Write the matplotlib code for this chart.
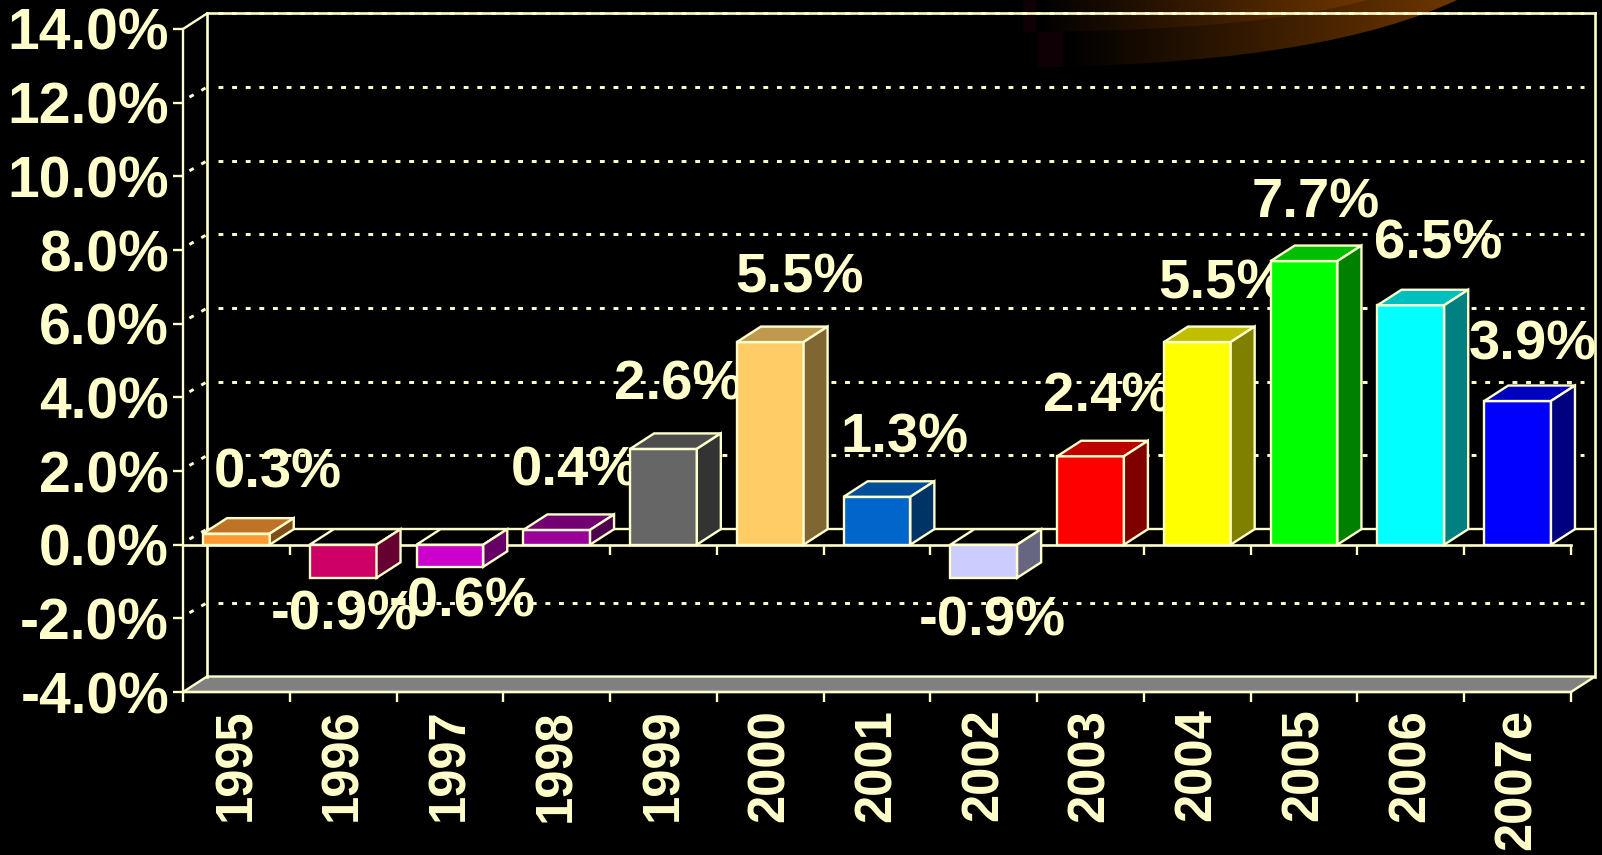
#!/usr/bin/env python3
"""Growth by year as a 3D-look bar chart on a black slide."""

import matplotlib
matplotlib.use("Agg")
import matplotlib.pyplot as plt
import numpy as np
from matplotlib.colors import LinearSegmentedColormap, to_rgb
from matplotlib.patches import PathPatch, Polygon
from matplotlib.path import Path

years = ["1995", "1996", "1997", "1998", "1999", "2000", "2001",
         "2002", "2003", "2004", "2005", "2006", "2007e"]
growth = [0.3, -0.9, -0.6, 0.4, 2.6, 5.5, 1.3, -0.9, 2.4, 5.5, 7.7, 6.5, 3.9]
bar_colors = ["#FF9933", "#CC0066", "#CC00CC", "#990099", "#666666", "#FFCC66", "#0066CC",
              "#CCCCFF", "#FF0000", "#FFFF00", "#00FF00", "#00FFFF", "#0000FF"]
y_ticks = [-4, -2, 0, 2, 4, 6, 8, 10, 12, 14]

# hand placed value labels, they sit at different distances from the bars
label_x = [0.89, 1.51, 2.62, 3.67, 4.64, 5.77, 6.76, 7.58, 8.66, 9.74, 10.61, 11.76, 12.64]
label_y = [1.93, -1.92, -1.57, 1.99, 4.32, 7.23, 2.88, -2.08, 4.00, 7.06, 9.26, 8.15, 5.41]

CREAM = "#FFFFCC"
W, H = 1602, 855
LEFT, RIGHT, TOP, BOTTOM = 183, 1571, 29, 692  # front plane, in pixels
DEPTH_X = 24 / ((RIGHT - LEFT) / 13)
DEPTH_Y = 15.5 / ((BOTTOM - TOP) / 18)
BAR_W = 0.625
LW = 1.7

plt.rcParams["font.family"] = ["Liberation Sans", "DejaVu Sans"]
plt.rcParams["font.weight"] = "bold"

fig = plt.figure(figsize=(W / 100, H / 100), dpi=100, facecolor="black")

# Swoosh from the slide background, top right corner
bg = fig.add_axes([0, 0, 1, 1], zorder=0)
bg.set_xlim(0, W)
bg.set_ylim(H, 0)
bg.axis("off")
bg.fill([1023, 1036, 1036, 1023], [0, 0, 32, 32], color="#0E0005", lw=0)
bg.fill([1038, 1063, 1063, 1038], [32, 32, 67, 67], color="#0E0005", lw=0)
swoosh_cmap = LinearSegmentedColormap.from_list("swoosh", ["#000000", "#6E3600"])
ramp = np.linspace(0, 1, 256).reshape(1, -1)

# outer and inner blade of the swoosh: corner, start, bezier control, end
blades = [([(1063, 0), (1063, 67), (1330, 60), (1457, 0)], 1063, 1457),
          ([(1036, 0), (1036, 32), (1260, 30), (1367, 0)], 1036, 1367)]
for pts, start, stop in blades:
    im = bg.imshow(ramp, extent=(start, stop, H, 0), cmap=swoosh_cmap, vmin=0, vmax=1, aspect="auto")
    codes = [Path.MOVETO, Path.LINETO, Path.CURVE3, Path.CURVE3]
    clip = PathPatch(Path(pts, codes), transform=bg.transData, fc="none", ec="none")
    bg.add_patch(clip)
    im.set_clip_path(clip)
bg.set_xlim(0, W)
bg.set_ylim(H, 0)

ax = fig.add_axes([LEFT / W, 1 - BOTTOM / H, (RIGHT - LEFT) / W, (BOTTOM - TOP) / H], zorder=1)
ax.patch.set_alpha(0.0)
ax.set_xlim(0, 13)
ax.set_ylim(-4, 14)

for name, spine in ax.spines.items():
    spine.set_visible(name in ("left", "bottom"))
    spine.set_color(CREAM)
    spine.set_linewidth(LW)

# Floor
ax.add_patch(Polygon([(0, -4), (13, -4), (13 + DEPTH_X, -4 + DEPTH_Y), (DEPTH_X, -4 + DEPTH_Y)],
                     closed=True, fc="#808080", ec=CREAM, lw=LW, clip_on=False, zorder=1))

# Back wall
wall_top = 14 + DEPTH_Y
wall_bottom = -4 + DEPTH_Y
ax.plot([DEPTH_X, DEPTH_X], [wall_bottom, wall_top], color=CREAM, lw=1.9, clip_on=False, zorder=1)
ax.plot([13 + DEPTH_X] * 2, [wall_bottom, wall_top], color=CREAM, lw=1.9, clip_on=False, zorder=1)
ax.plot([DEPTH_X, 13 + DEPTH_X], [wall_top, wall_top], color=CREAM, lw=1.9, clip_on=False, zorder=1)
ax.plot([0, DEPTH_X], [14, wall_top], color=CREAM, lw=LW, clip_on=False, zorder=1)

# Dotted gridlines on the wall and side wall
dots = (0, (1.67, 3.0))
for tick in y_ticks[1:]:
    if tick == 0:
        continue
    ax.plot([DEPTH_X + 0.1, 13 + DEPTH_X - 0.1], [tick + DEPTH_Y] * 2, color=CREAM, lw=2.1,
            ls=dots, clip_on=False, zorder=1)
for tick in y_ticks[1:-1]:
    ax.plot([0.06, DEPTH_X], [tick + 0.15, tick + DEPTH_Y], color=CREAM, lw=2.1,
            ls=dots, clip_on=False, zorder=1)

# Zero plane, front and back
ax.plot([DEPTH_X, 13 + DEPTH_X], [DEPTH_Y, DEPTH_Y], color=CREAM, lw=LW, clip_on=False, zorder=1)
ax.plot([0, 13], [0, 0], color=CREAM, lw=1.9, clip_on=False, zorder=1.5)
ax.vlines(range(1, 14), -0.27, 0, color=CREAM, lw=LW, clip_on=False, zorder=1.5)

# Bars, each one with its label on top, later bars cover earlier labels
for i, (value, color) in enumerate(zip(growth, bar_colors)):
    x0 = i + (1 - BAR_W) / 2
    x1 = x0 + BAR_W
    z = 3 + 2 * i
    rgb = np.array(to_rgb(color))
    high = max(value, 0)
    low = min(value, 0)
    top_face = rgb * 0.75 if value > 0 else "black"
    ax.bar(x0, value, width=BAR_W, align="edge", color=color, edgecolor=CREAM, linewidth=LW,
           clip_on=False, zorder=z)
    ax.add_patch(Polygon([(x0, high), (x1, high), (x1 + DEPTH_X, high + DEPTH_Y), (x0 + DEPTH_X, high + DEPTH_Y)],
                         closed=True, fc=top_face, ec=CREAM, lw=LW, clip_on=False, zorder=z))
    ax.add_patch(Polygon([(x1, low), (x1, high), (x1 + DEPTH_X, high + DEPTH_Y), (x1 + DEPTH_X, low + DEPTH_Y)],
                         closed=True, fc=rgb * 0.5, ec=CREAM, lw=LW, clip_on=False, zorder=z))
    ax.text(label_x[i], label_y[i], f"{value:.1f}%", ha="center", va="center", fontsize=40.5,
            fontweight="bold", color=CREAM, clip_on=False, zorder=z + 1)

# Axes text
ax.set_yticks(y_ticks)
ax.set_yticklabels([f"{t:.1f}%" for t in y_ticks], fontsize=41, color=CREAM)
ax.tick_params(axis="y", colors=CREAM, length=7, width=LW, pad=3)
ax.set_xticks(range(14))
ax.set_xticklabels([])
ax.tick_params(axis="x", which="major", colors=CREAM, length=7, width=LW)
ax.set_xticks(np.arange(13) + 0.5, minor=True)
ax.set_xticklabels(years, minor=True, rotation=90, fontsize=36.5, color=CREAM, va="top", ha="center")
ax.tick_params(axis="x", which="minor", length=0, pad=12)

fig.savefig("out.png", dpi=100, facecolor="black")
